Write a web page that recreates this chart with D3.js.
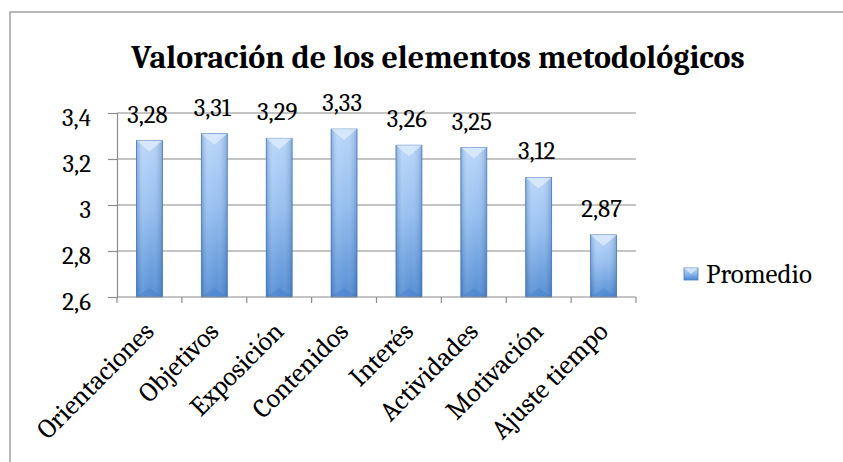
<!DOCTYPE html>
<html>
<head>
<meta charset="utf-8">
<script src="https://cdn.jsdelivr.net/npm/d3@7/dist/d3.min.js"></script>
<style>
  body { margin: 0; background: #fff; }
  text { font-family: Cambria, "Liberation Serif", serif; fill: #000; }
</style>
</head>
<body>
<div id="chart-bar1"></div>
<script>
var categories = ["Orientaciones", "Objetivos", "Exposición", "Contenidos", "Interés", "Actividades", "Motivación", "Ajuste tiempo"];
var promedio = [3.28, 3.31, 3.29, 3.33, 3.26, 3.25, 3.12, 2.87];
var yTicks = [2.6, 2.8, 3, 3.2, 3.4];
var seriesName = "Promedio";
var chartTitle = "Valoración de los elementos metodológicos";

window.onload = function () {
  var W = 843, H = 462;
  var margin = {top: 113, right: 207, bottom: 165, left: 117},
      width = W - margin.left - margin.right,
      height = H - margin.top - margin.bottom;

  var locale = d3.formatLocale({decimal: ",", thousands: ".", grouping: [3], currency: ["", "€"]});
  var fmt2 = locale.format(".2f");
  var fmtTick = function (v) { return locale.format("~g")(v); };

  var data = categories.map(function (c, i) { return {cat: c, value: promedio[i]}; });

  var root = d3.select("#chart-bar1").append("svg")
      .attr("width", W)
      .attr("height", H);

  var defs = root.append("defs");
  var grad = defs.append("linearGradient").attr("id", "barGrad")
      .attr("x1", 0).attr("y1", 0).attr("x2", 0).attr("y2", 1);
  grad.append("stop").attr("offset", "0%").attr("stop-color", "#b6d4f8");
  grad.append("stop").attr("offset", "45%").attr("stop-color", "#92bcef");
  grad.append("stop").attr("offset", "100%").attr("stop-color", "#4d89d2");

  var side = defs.append("linearGradient").attr("id", "barSide")
      .attr("x1", 0).attr("y1", 0).attr("x2", 1).attr("y2", 0);
  side.append("stop").attr("offset", "0%").attr("stop-color", "#1f4f8f").attr("stop-opacity", 0.3);
  side.append("stop").attr("offset", "25%").attr("stop-color", "#ffffff").attr("stop-opacity", 0.12);
  side.append("stop").attr("offset", "60%").attr("stop-color", "#ffffff").attr("stop-opacity", 0.05);
  side.append("stop").attr("offset", "100%").attr("stop-color", "#1f4f8f").attr("stop-opacity", 0.3);

  // outer frame (clipped on right and bottom like the original)
  root.append("rect")
      .attr("x", 10).attr("y", 12)
      .attr("width", W + 20).attr("height", H + 20)
      .attr("fill", "none")
      .attr("stroke", "#a0a0a0")
      .attr("stroke-width", 1.5);

  root.append("text")
      .attr("x", 438).attr("y", 68)
      .attr("text-anchor", "middle")
      .style("font-size", "32px")
      .style("font-weight", "bold")
      .text(chartTitle);

  var svg = root.append("g")
      .attr("transform", "translate(" + margin.left + "," + margin.top + ")");

  var x = d3.scaleBand()
      .domain(categories)
      .range([0, width])
      .paddingInner(0.6)
      .paddingOuter(0.3);
  var xb = d3.scaleBand().domain(categories).range([0, width]);
  var y = d3.scaleLinear()
      .domain([2.6, 3.4])
      .range([height, 0]);

  // gridlines
  svg.append("g")
    .selectAll("line")
    .data(yTicks.slice(1))
    .enter().append("line")
      .attr("x1", 0).attr("x2", width)
      .attr("y1", function (d) { return y(d); })
      .attr("y2", function (d) { return y(d); })
      .attr("stroke", "#8c8c8c")
      .attr("stroke-width", 1.2);

  // bars
  var bar = svg.selectAll(".bar")
      .data(data)
    .enter().append("g")
      .attr("class", "bar");

  bar.append("rect")
      .attr("x", function (d) { return x(d.cat); })
      .attr("y", function (d) { return y(d.value); })
      .attr("width", x.bandwidth())
      .attr("height", function (d) { return height - y(d.value); })
      .attr("fill", "url(#barGrad)")
      .attr("stroke", "#4a7dbd")
      .attr("stroke-width", 0.8);

  bar.append("rect")
      .attr("x", function (d) { return x(d.cat); })
      .attr("y", function (d) { return y(d.value); })
      .attr("width", x.bandwidth())
      .attr("height", function (d) { return height - y(d.value); })
      .attr("fill", "url(#barSide)");

  // top bevel
  bar.append("path")
      .attr("d", function (d) {
        var x0 = x(d.cat), x1 = x0 + x.bandwidth(), t = y(d.value);
        return "M" + x0 + "," + t + "L" + x1 + "," + t + "L" + (x0 + x.bandwidth() / 2) + "," + (t + 11) + "Z";
      })
      .attr("fill", "#e4f0fd")
      .attr("opacity", 0.7);

  // bottom bevel
  bar.append("path")
      .attr("d", function (d) {
        var x0 = x(d.cat), x1 = x0 + x.bandwidth();
        return "M" + x0 + "," + height + "L" + x1 + "," + height + "L" + (x0 + x.bandwidth() / 2) + "," + (height - 9) + "Z";
      })
      .attr("fill", "#2f6ab8")
      .attr("opacity", 0.2);

  // value labels
  svg.selectAll(".val")
      .data(data)
    .enter().append("text")
      .attr("class", "val")
      .attr("x", function (d) { return x(d.cat) + x.bandwidth() / 2 - 2; })
      .attr("y", function (d) { return y(d.value) - 18; })
      .attr("text-anchor", "middle")
      .style("font-size", "25px")
      .text(function (d) { return fmt2(d.value); });

  // y axis
  var yAxis = svg.append("g")
      .call(d3.axisLeft(y).tickValues(yTicks).tickSize(9).tickPadding(17).tickFormat(fmtTick));
  yAxis.select(".domain").attr("stroke", "#8c8c8c").attr("stroke-width", 1.2);
  yAxis.selectAll(".tick line").attr("stroke", "#8c8c8c").attr("stroke-width", 1.2);
  yAxis.selectAll(".tick text")
      .attr("dy", "0.5em")
      .style("font-size", "25px")
      .style("font-family", "Cambria, 'Liberation Serif', serif")
      .attr("fill", "#000");

  // x axis
  var xAxisG = svg.append("g").attr("transform", "translate(0," + height + ")");
  xAxisG.append("line")
      .attr("x1", 0).attr("x2", width)
      .attr("stroke", "#8c8c8c").attr("stroke-width", 1.2);
  xAxisG.selectAll(".xt")
      .data([0].concat(categories.map(function (c) { return xb(c) + xb.bandwidth(); })))
    .enter().append("line")
      .attr("x1", function (d) { return d; })
      .attr("x2", function (d) { return d; })
      .attr("y1", 0).attr("y2", 6)
      .attr("stroke", "#8c8c8c").attr("stroke-width", 1.2);

  xAxisG.selectAll(".xl")
      .data(categories)
    .enter().append("text")
      .attr("class", "xl")
      .attr("text-anchor", "end")
      .style("font-size", "27px")
      .attr("transform", function (c) {
        return "translate(" + (xb(c) + xb.bandwidth() / 2 + 6) + ",36) rotate(-45)";
      })
      .text(function (c) { return c; });

  // legend
  var legend = root.append("g").attr("transform", "translate(684,268)");
  legend.append("rect")
      .attr("width", 14).attr("height", 12)
      .attr("fill", "url(#barGrad)")
      .attr("stroke", "#4a7dbd").attr("stroke-width", 0.8);
  legend.append("path")
      .attr("d", "M0,0L14,0L7,6Z")
      .attr("fill", "#e4f0fd").attr("opacity", 0.7);
  legend.append("text")
      .attr("x", 22).attr("y", 6)
      .attr("dy", "0.35em")
      .style("font-size", "27px")
      .text(seriesName);
};
</script>
</body>
</html>
